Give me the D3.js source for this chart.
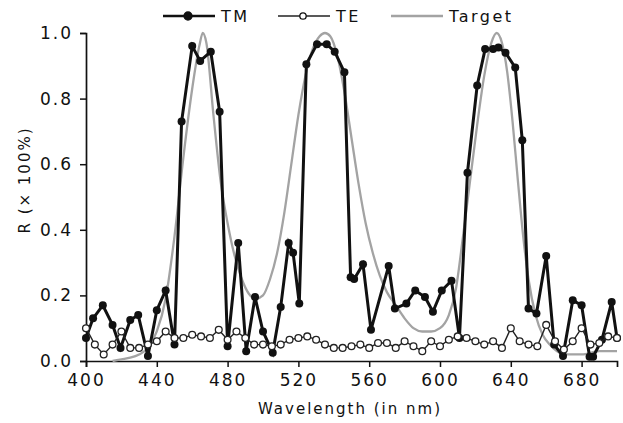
<!DOCTYPE html>
<html>
<head>
<meta charset="utf-8">
<script src="https://d3js.org/d3.v7.min.js"></script>
<style>
  body { margin: 0; background: #fff; }
  text { font-family: "DejaVu Sans", sans-serif; fill: #111; }
</style>
</head>
<body>
<div id="my_dataviz"></div>
<script>

// wavelengths (nm) and reflectance
var tmWl  = [400, 404, 409.5, 415, 419.5, 425, 429.5, 435, 440, 445, 450, 454, 460, 464.5, 470.5, 475.5,
             480, 486, 490.5, 495.5, 500, 505.5, 510, 514.5, 517, 520.5, 524.5, 530.5, 536, 540.5, 546,
             549.5, 551.5, 556.5, 561, 571, 574.5, 581, 586, 591.5, 596, 601, 606.5, 611, 615.5, 621,
             625.5, 630, 633, 637, 642.5, 646.5, 650, 654.5, 660, 664.5, 669.5, 675, 680, 684.5, 686.5,
             691.5, 697, 700]
var tmR   = [0.07, 0.13, 0.17, 0.11, 0.04, 0.125, 0.14, 0.015, 0.155, 0.215, 0.05, 0.73, 0.96, 0.915, 0.943, 0.76,
             0.045, 0.36, 0.03, 0.195, 0.09, 0.025, 0.165, 0.36, 0.33, 0.175, 0.905, 0.966, 0.966, 0.943, 0.88,
             0.255, 0.25, 0.295, 0.095, 0.29, 0.16, 0.175, 0.215, 0.195, 0.15, 0.215, 0.245, 0.07, 0.574, 0.84,
             0.951, 0.951, 0.956, 0.94, 0.895, 0.673, 0.16, 0.145, 0.32, 0.05, 0.015, 0.185, 0.17, 0.013, 0.013,
             0.065, 0.18, 0.07]

var teWl  = d3.range(400, 701, 5)
var teR   = [0.10, 0.05, 0.02, 0.05, 0.09, 0.04, 0.04, 0.05, 0.06, 0.09, 0.07, 0.07, 0.08, 0.075, 0.07, 0.095,
             0.065, 0.09, 0.07, 0.05, 0.05, 0.045, 0.05, 0.065, 0.07, 0.075, 0.065, 0.05, 0.04, 0.04, 0.045,
             0.05, 0.04, 0.055, 0.055, 0.04, 0.06, 0.045, 0.03, 0.06, 0.045, 0.065, 0.075, 0.07, 0.06, 0.05,
             0.06, 0.04, 0.10, 0.06, 0.05, 0.045, 0.11, 0.06, 0.035, 0.06, 0.10, 0.05, 0.055, 0.075, 0.07]

var tgWl  = [415, 420, 425, 430, 435, 440, 445, 450, 455, 460, 464, 466, 468, 472, 476, 480, 484, 488, 492,
             496, 500, 504, 508, 512, 516, 520, 524, 528, 532, 535, 538, 542, 546, 550, 554, 558, 562, 566,
             570, 575, 580, 585, 590, 595, 600, 605, 609, 613, 617, 621, 625, 629, 632, 635, 638, 641, 644,
             647, 650, 654, 658, 662, 666, 670, 680, 690, 700]
var tgR   = [0.0, 0.005, 0.01, 0.02, 0.04, 0.09, 0.19, 0.38, 0.62, 0.83, 0.96, 1.0, 0.97, 0.75, 0.55, 0.42, 0.32, 0.25, 0.205,
             0.19, 0.2, 0.25, 0.33, 0.45, 0.6, 0.75, 0.87, 0.95, 0.99, 1.0, 0.99, 0.93, 0.82, 0.68, 0.54, 0.42, 0.33, 0.26,
             0.21, 0.17, 0.13, 0.1, 0.09, 0.09, 0.1, 0.14, 0.22, 0.38, 0.55, 0.72, 0.87, 0.97, 1.0, 0.97, 0.88, 0.73, 0.55,
             0.38, 0.25, 0.14, 0.08, 0.05, 0.03, 0.02, 0.02, 0.03, 0.03]

var xTicks = [400, 440, 480, 520, 560, 600, 640, 680]
var yTicks = [0.0, 0.2, 0.4, 0.6, 0.8, 1.0]

var width = 623
    height = 423

var svg = d3.select("#my_dataviz")
  .append("svg")
    .attr("width", width)
    .attr("height", height)

svg.append("rect").attr("width", width).attr("height", height).attr("fill", "#fff")

var x = d3.scaleLinear().domain([400, 700]).range([86, 617])
var y = d3.scaleLinear().domain([0, 1]).range([361, 33])

// axes: major ticks with labels, minor ticks without
var xAxis = svg.append("g").attr("transform", "translate(0," + y(0) + ")")
xAxis.call(d3.axisBottom(x).tickValues(d3.range(400, 701, 20)).tickSize(3).tickFormat(""))
xAxis.call(d3.axisBottom(x).tickValues(xTicks).tickSize(6).tickPadding(7).tickFormat(d3.format("d")))

var yAxis = svg.append("g").attr("transform", "translate(" + x(400) + ",0)")
yAxis.call(d3.axisLeft(y).tickValues(d3.range(0, 1.01, 0.1)).tickSize(3).tickFormat(""))
yAxis.call(d3.axisLeft(y).tickValues(yTicks).tickSize(6).tickPadding(7).tickFormat(d3.format(".1f")))

svg.selectAll(".domain").attr("stroke", "#111").attr("stroke-width", 1.7)
svg.selectAll(".tick line").attr("stroke", "#111").attr("stroke-width", 1.5)
svg.selectAll(".tick text")
  .style("font-size", "17px")
  .style("letter-spacing", "2px")
  .attr("fill", "#111")

// axis titles
svg.append("text")
  .attr("x", 350).attr("y", 414)
  .attr("text-anchor", "middle")
  .style("font-size", "15px")
  .style("letter-spacing", "2px")
  .text("Wavelength (in nm)")

svg.append("text")
  .attr("transform", "translate(30,180) rotate(-90)")
  .attr("text-anchor", "middle")
  .style("font-size", "15px")
  .style("letter-spacing", "2px")
  .text("R (× 100%)")

var line = d3.line()
  .x(function(d) { return x(d[0]) })
  .y(function(d) { return y(d[1]) })

var target = d3.zip(tgWl, tgR)
var tm = d3.zip(tmWl, tmR)
var te = d3.zip(teWl, teR)

svg.append("path")
  .datum(target)
  .attr("fill", "none")
  .attr("stroke", "#a3a3a3")
  .attr("stroke-width", 2.3)
  .attr("d", line.curve(d3.curveMonotoneX))

line.curve(d3.curveLinear)

svg.append("path")
  .datum(tm)
  .attr("fill", "none")
  .attr("stroke", "#111")
  .attr("stroke-width", 3)
  .attr("d", line)

svg.selectAll(".tm")
  .data(tm)
  .enter()
  .append("circle")
    .attr("cx", function(d) { return x(d[0]) })
    .attr("cy", function(d) { return y(d[1]) })
    .attr("r", 4)
    .attr("fill", "#111")

svg.append("path")
  .datum(te)
  .attr("fill", "none")
  .attr("stroke", "#222")
  .attr("stroke-width", 1.4)
  .attr("d", line)

svg.selectAll(".te")
  .data(te)
  .enter()
  .append("circle")
    .attr("cx", function(d) { return x(d[0]) })
    .attr("cy", function(d) { return y(d[1]) })
    .attr("r", 3.4)
    .attr("fill", "#fff")
    .attr("stroke", "#222")
    .attr("stroke-width", 1.3)

// legend
var legend = [
  {name: "TM", x: 163, color: "#111", w: 2.6, mark: "fill"},
  {name: "TE", x: 278, color: "#222", w: 1.5, mark: "open"},
  {name: "Target", x: 391, color: "#a3a3a3", w: 2.3, mark: "none"}
]
var lg = svg.selectAll(".legend").data(legend).enter().append("g")
lg.append("line")
  .attr("x1", function(d) { return d.x }).attr("x2", function(d) { return d.x + 52 })
  .attr("y1", 16).attr("y2", 16)
  .attr("stroke", function(d) { return d.color })
  .attr("stroke-width", function(d) { return d.w })
lg.filter(function(d) { return d.mark != "none" })
  .append("circle")
  .attr("cx", function(d) { return d.x + 25 }).attr("cy", 16)
  .attr("r", function(d) { return d.mark == "fill" ? 4 : 3.2 })
  .attr("fill", function(d) { return d.mark == "fill" ? "#111" : "#fff" })
  .attr("stroke", "#111").attr("stroke-width", 1.3)
lg.append("text")
  .attr("x", function(d) { return d.x + 58 }).attr("y", 22)
  .style("font-size", "16px")
  .style("letter-spacing", "2.5px")
  .text(function(d) { return d.name })

</script>
</body>
</html>
